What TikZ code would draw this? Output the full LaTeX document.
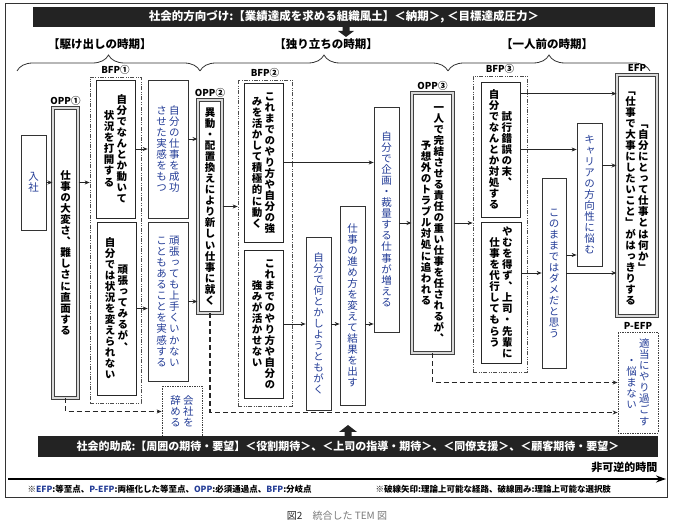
\documentclass[tikz,border=0pt]{standalone}
\usepackage{fontspec}
\setmainfont{Noto Sans CJK JP}
\newfontfamily\tatefont[RawFeature=+vert]{Noto Sans CJK JP}
\usepackage{tikz}
\usetikzlibrary{arrows.meta, positioning, decorations.pathreplacing}
\definecolor{txtblue}{RGB}{35,60,150}
\definecolor{bardark}{RGB}{35,35,35}
\definecolor{capgray}{RGB}{120,120,120}
\makeatletter
\newcommand\tatecol[1]{\vbox{\offinterlineskip\@tfor\tate@c:=#1\do{\hbox to 1.05em{\hss\smash{\tate@c}\hss\vrule height .9em depth .15em width 0pt}}}}
\makeatother
\newcommand\vone[1]{$\vcenter{\tatecol{#1}}$}
\newcommand\vtwo[2]{$\vcenter{\tatecol{#2}}\kern1.5pt\vcenter{\tatecol{#1}}$}
\tikzset{
  corners/.style args={#1/#2/#3/#4}{at={({(#1+#3)/2},{(#2+#4)/2})},
    minimum width={(#3)-(#1)}, minimum height={(#4)-(#2)}},
  plainbox/.style={rectangle, draw=black!80, line width=0.7pt, inner sep=0pt,
    font=\tatefont\fontsize{10.5}{11}\selectfont, text=txtblue},
  boldbox/.style={rectangle, draw=black!85, line width=0.8pt, inner sep=0pt,
    font=\tatefont\bfseries\fontsize{10.5}{11}\selectfont},
  keybox/.style={boldbox, draw=black!75, double=black!15, double distance=1.2pt, line width=1pt},
  optbox/.style={plainbox, draw=black!75, densely dotted, line width=0.8pt},
  bfpframe/.style={rectangle, draw=black!70, line width=0.7pt, inner sep=0pt,
    dash pattern=on 4pt off 1.5pt on 0.8pt off 1.5pt on 0.8pt off 1.5pt},
  tag/.style={font=\bfseries\fontsize{9.5}{9.5}\selectfont, inner sep=1pt},
  period/.style={font=\bfseries\fontsize{11.5}{12}\selectfont},
  blackbar/.style={rectangle, fill=bardark, text=white, inner sep=0pt,
    font=\bfseries\fontsize{11.5}{12}\selectfont},
  legend/.style={font=\bfseries\fontsize{8.5}{8.5}\selectfont, anchor=west},
  arrow/.style={-{Stealth[length=5pt, width=4pt]}, line width=0.9pt, color=black!85},
  dasharrow/.style={arrow, line width=1.1pt, dash pattern=on 5pt off 3pt},
  timeline/.style={-{Stealth[length=10pt, width=7pt]}, line width=2.2pt},
  bracebar/.style={decorate, decoration={brace, amplitude=16pt}, line width=0.8pt, color=black!80}
}
\begin{document}
\begin{tikzpicture}[x=1pt, y=-1pt]
  \useasboundingbox (0,0) rectangle (673,529);
  \draw[line width=0.8pt, black!80] (5,3) rectangle (667,497);

  % social direction
  \node[blackbar, corners=33/7/655/27] (orient) {社会的方向づけ:【業績達成を求める組織風土】＜納期＞, ＜目標達成圧力＞};
  \fill[bardark] (342.5,27) -- (349.5,27) -- (349.5,31) -- (354,31) -- (346,37) -- (338,31) -- (342.5,31) -- cycle;

  \node[period] (per1) at (100,44) {【駆け出しの時期】};
  \node[period] (per2) at (326,44) {【独り立ちの時期】};
  \node[period] (per3) at (547,44) {【一人前の時期】};
  \draw[bracebar] (17,71) -- (200,71);
  \draw[bracebar] (200,71) -- (448,71);
  \draw[bracebar] (448,71) -- (650,71);

  % boxes
  \node[plainbox, corners=21/135/46/230] (nyusha) {\vone{入社}};
  \node[keybox, corners=53/108/78/398] (opp1) {\vone{仕事の大変さ、難しさに直面する}};
  \node[bfpframe, corners=90/77/141/403] (bfp1) {};
  \node[boldbox, corners=96/80/135/218] (b1up) {\vtwo{自分でなんとか動いて}{状況を打開する}};
  \node[boldbox, corners=97/222/136/395] (b1low) {\vtwo{頑張ってみるが、}{自分では状況を変えられない}};
  \node[plainbox, corners=148/80/188/218] (succ) {\vtwo{自分の仕事を成功}{させた実感をもつ}};
  \node[plainbox, corners=148/222/188/381] (hard) {\vtwo{頑張っても上手くいかない}{こともあることを実感する}};
  \node[optbox, corners=162/386/202/437] (quit) {\vtwo{会社を}{辞める}};
  \node[keybox, corners=198/100/222/313] (opp2) {\vone{異動・配置換えにより新しい仕事に就く}};
  \node[bfpframe, corners=238/80/292/406] (bfp2) {};
  \node[boldbox, corners=244/83/283/242] (b2up) {\vtwo{これまでのやり方や自分の強}{みを活かして積極的に動く}};
  \node[boldbox, corners=244/250/283/398] (b2low) {\vtwo{これまでのやり方や自分の}{強みが活かせない}};
  \node[plainbox, corners=306/237/331/410] (struggle) {\vone{自分で何とかしようともがく}};
  \node[plainbox, corners=340/206/365/405] (method) {\vone{仕事の進め方を変えて結果を出す}};
  \node[plainbox, corners=374/107/399/332] (plan) {\vone{自分で企画・裁量する仕事が増える}};
  \node[keybox, corners=412/93/453/353] (opp3) {\vtwo{一人で完結させる責任の重い仕事を任されるが、}{予想外のトラブル対処に追われる}};
  \node[bfpframe, corners=473/76/527/372] (bfp3) {};
  \node[boldbox, corners=481/82/520/217] (b3up) {\vtwo{試行錯誤の末、}{自分でなんとか対処する}};
  \node[boldbox, corners=481/222/521/363] (b3low) {\vtwo{やむを得ず、上司・先輩に}{仕事を代行してもらう}};
  \node[plainbox, corners=542/178/566/368] (dame) {\vone{このままではダメだと思う}};
  \node[plainbox, corners=577/123/602/266] (career) {\vone{キャリアの方向性に悩む}};
  \node[keybox, corners=617/75/657/316] (efp) {\vtwo{「自分にとって仕事とは何か」}{「仕事で大事にしたいこと」がはっきりする}};
  \node[optbox, corners=618/332/658/433] (pefp) {\vtwo{適当にやり過ごす}{・悩まない}};

  % point labels
  \node[tag, above=1pt of opp1] {OPP①};
  \node[tag, above=1pt of bfp1] {BFP①};
  \node[tag, above=1pt of opp2] {OPP②};
  \node[tag, above=1pt of bfp2] {BFP②};
  \node[tag, above=1pt of opp3] {OPP③};
  \node[tag, above=1pt of bfp3] {BFP③};
  \node[tag, above=2pt of efp] {EFP};
  \node[tag, above=1pt of pefp] {P-EFP};

  % paths
  \draw[arrow] (nyusha.east) -- (nyusha.east -| opp1.west);
  \draw[arrow] (opp1.east |- nyusha) -- (nyusha -| bfp1.west);
  \draw[arrow] (b1up.east) -- (b1up.east -| succ.west);
  \draw[arrow] (b1low.east) -- (b1low.east -| hard.west);
  \draw[arrow] ([yshift=10pt]succ.east) -- ([yshift=10pt]succ.east -| opp2.west);
  \draw[arrow] (hard.east) -- (hard.east -| opp2.west);
  \draw[arrow] (opp2.east) -- (opp2.east -| bfp2.west);
  \draw[arrow] (b2up.east) -- (b2up.east -| plan.west);
  \draw[arrow] (b2low.east) -- (b2low.east -| struggle.west);
  \draw[arrow] (struggle.east |- b2low) -- (method.west |- b2low);
  \draw[arrow] (method.east |- b2low) -- (plan.west |- b2low);
  \draw[arrow] (plan.east |- opp3) -- (opp3.west);
  \draw[arrow] (opp3.east) -- (opp3.east -| bfp3.west);
  \draw[arrow] ([yshift=-12pt]b3up.north east) -- ([yshift=-12pt]b3up.north east -| efp.west);
  \draw[arrow] (b3up.east) -- (b3up.east -| career.west);
  \draw[arrow] (b3low.east |- dame) -- (dame.west);
  \draw[arrow] ([yshift=18pt]dame.east) -- ([yshift=18pt]dame.east -| career.west);
  \draw[arrow] (dame.east) -- (dame.east -| efp.west);
  \draw[arrow] ([yshift=29pt]career.east) -- ([yshift=29pt]career.east -| efp.west);
  \draw[dasharrow] (opp1.south) |- (quit.west);
  \draw[dasharrow] (opp2.south) |- ([yshift=-30pt]pefp.west);
  \draw[dasharrow] (opp3.south) |- (pefp.west);

  % social guidance
  \fill[bardark] (344.5,436) -- (344.5,432) -- (339,432) -- (348,425) -- (357,432) -- (351.5,432) -- (351.5,436) -- cycle;
  \node[blackbar, font=\bfseries\fontsize{11}{12}\selectfont, corners=38/436/658/457] (guide) {社会的助成:【周囲の期待・要望】＜役割期待＞、＜上司の指導・期待＞、＜同僚支援＞、＜顧客期待・要望＞};
  \node[font=\bfseries\fontsize{11}{11}\selectfont, anchor=east] (irrev) at (661,467) {非可逆的時間};
  \coordinate (tl0) at (8,479);
  \coordinate (tl1) at (666,479);
  \draw[timeline] (tl0) -- (tl1);
  \node[legend] (key1) at (24,489) {※\textcolor{txtblue}{EFP}:等至点、\textcolor{txtblue}{P-EFP}:両極化した等至点、\textcolor{txtblue}{OPP}:必須通過点、\textcolor{txtblue}{BFP}:分岐点};
  \node[legend] (key2) at (372,489) {※破線矢印:理論上可能な経路、破線囲み:理論上可能な選択肢};
  \node[font=\fontsize{10}{10}\selectfont, text=capgray] (caption) at (337,516) {\textcolor{black!85}{図2}\quad 統合した TEM 図};
\end{tikzpicture}
\end{document}
